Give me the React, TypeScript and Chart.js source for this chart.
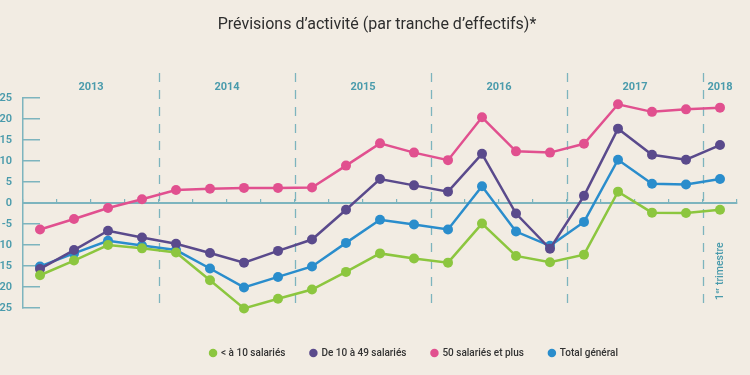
import React, { useEffect, useRef } from "react";
import { Chart, registerables } from "chart.js";

Chart.register(...registerables);

const quarters = [
  "T1 2013", "T2 2013", "T3 2013", "T4 2013",
  "T1 2014", "T2 2014", "T3 2014", "T4 2014",
  "T1 2015", "T2 2015", "T3 2015", "T4 2015",
  "T1 2016", "T2 2016", "T3 2016", "T4 2016",
  "T1 2017", "T2 2017", "T3 2017", "T4 2017",
  "T1 2018",
];

const years = ["2013", "2014", "2015", "2016", "2017", "2018"];
const yearFirstQuarter = [0, 4, 8, 12, 16, 20];
const yearLastQuarter = [3, 7, 11, 15, 19, 20];

const lessThan10 = [
  -17.2, -13.7, -10.0, -10.8, -11.8, -18.4, -25.1, -22.8, -20.6, -16.4, -12.0,
  -13.2, -14.2, -4.9, -12.6, -14.1, -12.3, 2.7, -2.3, -2.4, -1.6,
];
const from10to49 = [
  -15.7, -11.2, -6.6, -8.2, -9.7, -11.9, -14.2, -11.4, -8.7, -1.6, 5.7, 4.2,
  2.7, 11.7, -2.5, -10.9, 1.7, 17.7, 11.5, 10.3, 13.8,
];
const fiftyPlus = [
  -6.3, -3.8, -1.2, 0.9, 3.1, 3.4, 3.6, 3.6, 3.7, 8.9, 14.2, 12.0, 10.2, 20.4,
  12.3, 12.0, 14.1, 23.5, 21.7, 22.3, 22.7,
];
const totalGeneral = [
  -15.1, -12.0, -9.0, -10.1, -11.2, -15.6, -20.1, -17.6, -15.1, -9.5, -4.0,
  -5.1, -6.3, 4.0, -6.8, -10.2, -4.5, 10.3, 4.6, 4.4, 5.7,
];

const seriesLabels = ["< à 10 salariés", "De 10 à 49 salariés", "50 salariés et plus", "Total général"];
const seriesColors = ["#8cc63f", "#5a4a8c", "#e1508f", "#2a8dcc"];

const TEAL_LINE = "#7db4be";
const TEAL_TEXT = "#4a9bac";
const BG = "#f2ece3";
const FONT = "Roboto, 'Noto Sans', sans-serif";

const decorPlugin = {
  id: "decor",
  beforeDatasetsDraw(chart: any) {
    const { ctx, chartArea, scales } = chart;
    const x = scales.x;
    const step = x.getPixelForValue(1) - x.getPixelForValue(0);
    ctx.save();
    ctx.strokeStyle = TEAL_LINE;
    ctx.lineWidth = 1.3;
    ctx.setLineDash([9, 8]);
    yearFirstQuarter.slice(1).forEach((i) => {
      const px = Math.round(x.getPixelForValue(i) - step / 2) + 0.5;
      ctx.beginPath();
      ctx.moveTo(px, chartArea.top - 25);
      ctx.lineTo(px, chartArea.bottom + 3);
      ctx.stroke();
    });
    ctx.restore();
  },
  afterDraw(chart: any) {
    const { ctx, chartArea, scales } = chart;
    const x = scales.x;
    ctx.save();
    ctx.fillStyle = TEAL_TEXT;
    ctx.font = `bold 11px ${FONT}`;
    ctx.textAlign = "center";
    ctx.textBaseline = "middle";
    years.forEach((yr, k) => {
      const cx = (x.getPixelForValue(yearFirstQuarter[k]) + x.getPixelForValue(yearLastQuarter[k])) / 2;
      ctx.fillText(yr, cx, chartArea.top - 11);
    });
    // "1er trimestre" rotated label
    const lx = x.getPixelForValue(quarters.length - 1);
    ctx.translate(lx, chartArea.bottom - 8);
    ctx.rotate(-Math.PI / 2);
    ctx.textAlign = "left";
    ctx.font = `500 10.5px ${FONT}`;
    ctx.fillText("1", 0, 0);
    const w1 = ctx.measureText("1").width;
    ctx.font = `500 6px ${FONT}`;
    ctx.fillText("er", w1 + 0.5, -3);
    const w2 = ctx.measureText("er").width;
    ctx.font = `500 10.5px ${FONT}`;
    ctx.fillText(" trimestre", w1 + w2 + 1, 0);
    ctx.restore();
  },
};

const boxShiftPlugin = {
  id: "boxShift",
  afterLayout(chart: any) {
    const lg = chart.legend;
    if (lg) {
      const dx = 414 - (lg.left + lg.right) / 2;
      lg.left += dx;
      lg.right += dx;
      lg.top += 15;
      lg.bottom += 15;
    }
    const tb = chart.titleBlock;
    if (tb) {
      const dx = 377 - (tb.left + tb.right) / 2;
      tb.left += dx;
      tb.right += dx;
    }
  },
};

export default function App() {
  const canvasRef = useRef<HTMLCanvasElement | null>(null);

  useEffect(() => {
    const canvas = canvasRef.current;
    if (!canvas) return;
    const dataSets = [lessThan10, from10to49, fiftyPlus, totalGeneral];
    const chart = new Chart(canvas, {
      type: "line",
      data: {
        labels: quarters,
        datasets: dataSets.map((d, i) => ({
          label: seriesLabels[i],
          data: d,
          borderColor: seriesColors[i],
          backgroundColor: seriesColors[i],
          pointBackgroundColor: seriesColors[i],
          pointBorderColor: seriesColors[i],
          pointBorderWidth: 0,
          pointRadius: 5,
          borderWidth: 2.5,
          tension: 0,
          clip: false as any,
          fill: false,
        })),
      },
      options: {
        responsive: false,
        animation: false,
        devicePixelRatio: 1,
        layout: { padding: { top: 0, right: 13, bottom: 22, left: 0 } },
        plugins: {
          title: {
            display: true,
            text: "Prévisions d’activité (par tranche d’effectifs)*",
            color: "#2e2e2e",
            font: { family: FONT, size: 16, weight: "normal" },
            padding: { top: 15, bottom: 63.8 },
          },
          legend: {
            display: true,
            position: "bottom",
            labels: {
              usePointStyle: true,
              pointStyle: "circle",
              boxWidth: 6,
              boxHeight: 6,
              padding: 25,
              color: "#333",
              font: { family: FONT, size: 10, weight: "500" },
            },
          },
          tooltip: { enabled: false },
        },
        scales: {
          x: {
            type: "category",
            position: { y: 0 } as any,
            offset: true,
            grid: {
              offset: true,
              drawOnChartArea: false,
              drawTicks: true,
              tickLength: -5,
              color: TEAL_LINE,
              lineWidth: 1.2,
            },
            border: { display: true, color: TEAL_LINE, width: 2 },
            ticks: { display: false },
          },
          y: {
            min: -25,
            max: 25,
            afterFit(scale: any) {
              scale.width = 23;
            },
            ticks: {
              stepSize: 5,
              padding: 28,
              color: TEAL_TEXT,
              font: { family: FONT, size: 11, weight: "600" },
            },
            grid: {
              drawOnChartArea: false,
              drawTicks: true,
              tickLength: -17,
              color: TEAL_LINE,
              lineWidth: 1.5,
            },
            border: { display: true, color: TEAL_LINE, width: 1.5 },
          },
        },
      },
      plugins: [decorPlugin, boxShiftPlugin],
    });
    return () => chart.destroy();
  }, []);

  return (
    <div
      style={{
        position: "fixed",
        left: 0,
        top: 0,
        width: 750,
        height: 375,
        background: BG,
      }}
    >
      <canvas ref={canvasRef} width={750} height={375} style={{ display: "block" }} />
    </div>
  );
}
